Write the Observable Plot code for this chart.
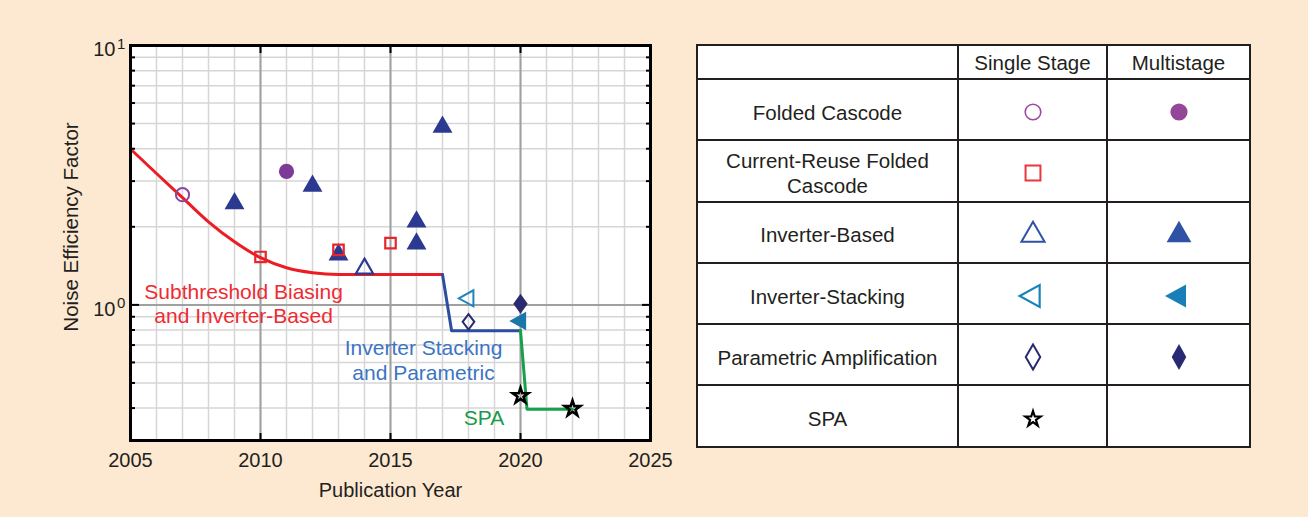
<!DOCTYPE html>
<html>
<head>
<meta charset="utf-8">
<script src="https://cdn.jsdelivr.net/npm/d3@7"></script>
<script src="https://cdn.jsdelivr.net/npm/@observablehq/plot@0.6"></script>
<style>
  html, body { margin: 0; padding: 0; background: #fde9d1; }
  #wrap { position: relative; width: 1308px; height: 517px; background: #fde9d1; overflow: hidden;
          font-family: "Liberation Sans", Arial, Helvetica, sans-serif; }
  #chart { position: absolute; left: 0; top: 0; }
  #legend { position: absolute; left: 696px; top: 44px; border-collapse: collapse; background: #fff;
            table-layout: fixed; width: 553px; }
  #legend td { border: 2.5px solid #231f20; text-align: center; vertical-align: middle; font-size: 20.5px;
               color: #231f20; padding: 0; line-height: 25px; }
  #legend tr.body td { padding-top: 5px; }
  #legend td svg { display: block; margin: 0 auto; }
</style>
</head>
<body>
<div id="wrap"><div id="chart"></div><table id="legend"></table></div>
<script>
// ---------------- data ----------------
// Folded cascode
const fcSingleYear = [2007];           const fcSingleNEF = [2.66];
const fcMultiYear  = [2011];           const fcMultiNEF  = [3.27];
// Current-reuse folded cascode
const crSingleYear = [2010, 2013, 2015]; const crSingleNEF = [1.53, 1.63, 1.73];
// Inverter-based
const invSingleYear = [2014];          const invSingleNEF = [1.38];
const invMultiYear  = [2009, 2012, 2013, 2016, 2016, 2017];
const invMultiNEF   = [2.46, 2.87, 1.56, 2.09, 1.72, 4.85];
// Inverter-stacking
const stkSingleYear = [2018];          const stkSingleNEF = [1.06];
const stkMultiYear  = [2020];          const stkMultiNEF  = [0.867];
// Parametric amplification
const parSingleYear = [2018];          const parSingleNEF = [0.86];
const parMultiYear  = [2020];          const parMultiNEF  = [1.01];
// SPA
const spaSingleYear = [2020, 2022];    const spaSingleNEF = [0.446, 0.398];

// Trend lines
const redYear   = [2005, 2006, 2007, 2008, 2009, 2010, 2011, 2012, 2013, 2017];
const redNEF    = [3.99, 3.21, 2.59, 2.09, 1.75, 1.52, 1.39, 1.33, 1.31, 1.31];
const blueYear  = [2017, 2017.35, 2020];
const blueNEF   = [1.31, 0.795, 0.795];
const greenYear = [2020, 2020.25, 2022];
const greenNEF  = [0.795, 0.396, 0.396];

// Axis ticks
const xLabelYears = [2005, 2010, 2015, 2020, 2025];
const xMajorYears = [2010, 2015, 2020];
const xMinorYears = d3.range(2006, 2025);
const yMajor = [1, 10];
const yMinor = [0.3, 0.4, 0.5, 0.6, 0.7, 0.8, 0.9, 2, 3, 4, 5, 6, 7, 8, 9];

// Annotation labels
const labelRed = ["Subthreshold Biasing\nand Inverter-Based"];
const labelBlue = ["Inverter Stacking\nand Parametric"];
const labelGreen = ["SPA"];

// Legend table
const rowNames = ["Folded Cascode", "Current-Reuse Folded\nCascode", "Inverter-Based",
                  "Inverter-Stacking", "Parametric Amplification", "SPA"];
const colNames = ["Single Stage", "Multistage"];
const tableSingle = ["fcS", "crS", "invS", "stkS", "parS", "spaS"];
const tableMulti  = ["fcM", null, "invM", "stkM", "parM", null];

// ---------------- symbols ----------------
const symLeftTri = { draw(c, size) { const r = Math.sqrt(size / Math.PI); const L = 2.1 * r, h = 1.15 * r;
  c.moveTo(-2 * L / 3, 0); c.lineTo(L / 3, -h); c.lineTo(L / 3, h); c.closePath(); } };
const diamond = (k) => ({ draw(c, size) { const r = Math.sqrt(size / Math.PI); const w = k * r;
  c.moveTo(0, -r); c.lineTo(w, 0); c.lineTo(0, r); c.lineTo(-w, 0); c.closePath(); } });

const pts = (xs, ys) => xs.map((x, i) => ({year: x, nef: ys[i]}));

// styles for plot markers
const plotStyle = {
  fcS:  {sym: d3.symbolCircle,   r: 6.6, fill: "none",    stroke: "#8e44a0", sw: 2},
  fcM:  {sym: d3.symbolCircle,   r: 7.6, fill: "#7d3a97", stroke: "none",    sw: 0},
  crS:  {sym: d3.symbolSquare,   r: 5.9, fill: "none",    stroke: "#e5262b", sw: 2.2},
  invS: {sym: d3.symbolTriangle, r: 6.4, fill: "none",    stroke: "#2b3990", sw: 2.2},
  invM: {sym: d3.symbolTriangle, r: 7.4, fill: "#2b3990", stroke: "none",    sw: 0},
  stkS: {sym: symLeftTri,        r: 7.0, fill: "none",    stroke: "#1f86bd", sw: 2},
  stkM: {sym: symLeftTri,        r: 8.0, fill: "#1a77a8", stroke: "none",    sw: 0},
  parS: {sym: diamond(0.75),     r: 7.8, fill: "none",    stroke: "#2b2a6f", sw: 2},
  parM: {sym: diamond(0.72),     r: 10,  fill: "#2b2a6f", stroke: "none",    sw: 0},
  spaS: {sym: d3.symbolStar,     r: 4.9, fill: "none",    stroke: "#000000", sw: 2.6}
};
// styles for table markers
const tableStyle = {
  fcS:  {sym: d3.symbolCircle,   r: 7.8, fill: "none",    stroke: "#9c4a9f", sw: 1.6},
  fcM:  {sym: d3.symbolCircle,   r: 8.6, fill: "#944799", stroke: "none",    sw: 0},
  crS:  {sym: d3.symbolSquare,   r: 8.4, fill: "none",    stroke: "#e8383d", sw: 2},
  invS: {sym: d3.symbolTriangle, r: 8.6, fill: "none",    stroke: "#3052a4", sw: 2},
  invM: {sym: d3.symbolTriangle, r: 9.2, fill: "#3052a4", stroke: "none",    sw: 0},
  stkS: {sym: symLeftTri,        r: 9.5, fill: "none",    stroke: "#1b83bb", sw: 2.2},
  stkM: {sym: symLeftTri,        r: 10,  fill: "#1b7fb7", stroke: "none",    sw: 0},
  parS: {sym: diamond(0.58),     r: 12.5, fill: "none",   stroke: "#272a72", sw: 2},
  parM: {sym: diamond(0.56),     r: 13,  fill: "#272a72", stroke: "none",    sw: 0},
  spaS: {sym: d3.symbolStar,     r: 4.8, fill: "none",    stroke: "#000000", sw: 2.2}
};

const series = [
  ["invS", invSingleYear, invSingleNEF], ["invM", invMultiYear, invMultiNEF],
  ["fcS", fcSingleYear, fcSingleNEF],    ["fcM", fcMultiYear, fcMultiNEF],
  ["crS", crSingleYear, crSingleNEF],
  ["stkS", stkSingleYear, stkSingleNEF], ["stkM", stkMultiYear, stkMultiNEF],
  ["parS", parSingleYear, parSingleNEF], ["parM", parMultiYear, parMultiNEF],
  ["spaS", spaSingleYear, spaSingleNEF]
];

const dotMarks = series.map(([k, xs, ys]) => {
  const s = plotStyle[k];
  return Plot.dot(pts(xs, ys), {x: "year", y: "nef", symbol: s.sym, r: s.r,
    fill: s.fill, stroke: s.stroke, strokeWidth: s.sw});
});

const tickStyle = {stroke: "black", strokeWidth: 2, fill: "none", label: null};

const chart = Plot.plot({
  width: 680, height: 517,
  marginLeft: 130, marginRight: 30, marginTop: 45, marginBottom: 77,
  style: {background: "transparent", fontFamily: "'Liberation Sans', Arial, Helvetica, sans-serif", color: "#231f20"},
  x: {domain: [2005, 2025], axis: null},
  y: {type: "log", domain: [0.3, 10], axis: null},
  marks: [
    Plot.frame({fill: "white", stroke: null}),
    Plot.gridX(xMinorYears, {stroke: "#d6d6d6", strokeOpacity: 1, strokeWidth: 1.5}),
    Plot.gridY(yMinor, {stroke: "#d6d6d6", strokeOpacity: 1, strokeWidth: 1.5}),
    Plot.gridX(xMajorYears, {stroke: "#a0a0a0", strokeOpacity: 1, strokeWidth: 2}),
    Plot.gridY(yMajor, {stroke: "#a0a0a0", strokeOpacity: 1, strokeWidth: 2}),
    Plot.line(pts(redYear, redNEF), {x: "year", y: "nef", stroke: "#ed1c24", strokeWidth: 3, curve: "monotone-x"}),
    Plot.line(pts(blueYear, blueNEF), {x: "year", y: "nef", stroke: "#2b4ea2", strokeWidth: 3}),
    Plot.line(pts(greenYear, greenNEF), {x: "year", y: "nef", stroke: "#17a04a", strokeWidth: 3}),
    ...dotMarks,
    Plot.text(labelRed, {text: d => d, x: 2009.35, y: 1.015, fill: "#ef2b31", fontSize: 21, lineHeight: 1.16}),
    Plot.text(labelBlue, {text: d => d, x: 2016.27, y: 0.614, fill: "#3c74c4", fontSize: 21, lineHeight: 1.16}),
    Plot.text(labelGreen, {text: d => d, x: 2018.6, y: 0.367, fill: "#1a9a4a", fontSize: 21}),
    // y tick labels 10^n
    Plot.text(yMajor, {y: d => d, text: d => "10", frameAnchor: "left", textAnchor: "end", dx: -15, dy: 4.5, fontSize: 20, fill: "#231f20"}),
    Plot.text(yMajor, {y: d => d, text: d => String(Math.round(Math.log10(d))), frameAnchor: "left", textAnchor: "start", dx: -13.5, dy: -1.5, fontSize: 15, fill: "#231f20"}),
    // inward ticks
    Plot.axisY(yMinor, {anchor: "left", tickSize: -5, ...tickStyle}),
    Plot.axisY(yMinor, {anchor: "right", tickSize: -5, ...tickStyle}),
    Plot.axisY(yMajor, {anchor: "left", tickSize: -9, ...tickStyle}),
    Plot.axisY(yMajor, {anchor: "right", tickSize: -9, ...tickStyle}),
    Plot.axisX(xMajorYears, {anchor: "top", tickSize: -7, ...tickStyle}),
    Plot.axisX(xMajorYears, {anchor: "bottom", tickSize: -7, ...tickStyle}),
    Plot.axisX(xLabelYears, {anchor: "bottom", tickSize: 0, tickPadding: 12, fontSize: 20, label: null, tickFormat: d => String(d), fill: "#231f20"}),
    // axis titles
    Plot.text(["Publication Year"], {text: d => d, frameAnchor: "bottom", lineAnchor: "middle", textAnchor: "middle", dy: 50, fontSize: 20, fill: "#231f20"}),
    Plot.text(["Noise Efficiency Factor"], {text: d => d, frameAnchor: "left", textAnchor: "middle", lineAnchor: "middle", rotate: -90, dx: -59, dy: -16, fontSize: 20.5, fill: "#231f20"}),
    Plot.frame({stroke: "black", strokeWidth: 3})
  ]
});
document.getElementById("chart").appendChild(chart);

// ---------------- legend table ----------------
function markerSVG(key) {
  if (!key) return "";
  const st = tableStyle[key];
  const p = d3.path();
  st.sym.draw(p, Math.PI * st.r * st.r);
  return `<svg width="36" height="36" viewBox="-18 -18 36 36"><path d="${p}" fill="${st.fill}" stroke="${st.stroke}" stroke-width="${st.sw}" stroke-linejoin="miter"/></svg>`;
}
const table = document.getElementById("legend");
let html = `<colgroup><col style="width:261px"><col style="width:149px"><col style="width:143px"></colgroup>`;
html += `<tr style="height:34px"><td></td><td>${colNames[0]}</td><td>${colNames[1]}</td></tr>`;
rowNames.forEach((name, i) => {
  html += `<tr class="body" style="height:61.3px"><td>${name.replace("\n", "<br>")}</td><td>${markerSVG(tableSingle[i])}</td><td>${markerSVG(tableMulti[i])}</td></tr>`;
});
table.innerHTML = html;
</script>
</body>
</html>
